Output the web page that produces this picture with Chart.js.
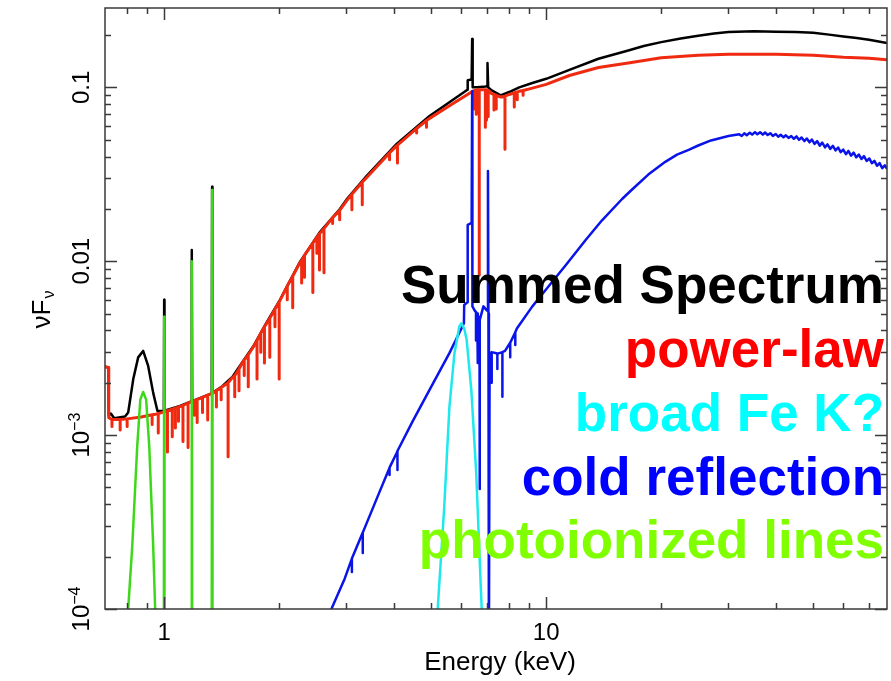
<!DOCTYPE html>
<html>
<head>
<meta charset="utf-8">
<script src="https://cdn.jsdelivr.net/npm/chart.js@4.4.1/dist/chart.umd.min.js"></script>
<style>
  html, body { margin: 0; padding: 0; background: #ffffff; }
  canvas { display: block; }
</style>
</head>
<body>
<canvas id="spectrum" width="891" height="681"></canvas>
<script>
// Energy axis (keV) and nuFnu axis limits
const energyRange = [0.7, 78];
const fluxRange = [1e-4, 0.286];

// Summed model spectrum: [energy keV, nuFnu]
const summedSpectrum = [
  [0.70, 2.47e-3], [0.715, 2.45e-3], [0.716, 1.30e-3], [0.725, 1.33e-3], [0.74, 1.25e-3],
  [0.79, 1.28e-3], [0.805, 1.35e-3], [0.83, 2.1e-3], [0.855, 2.8e-3], [0.881, 3.05e-3],
  [0.908, 2.5e-3], [0.936, 1.75e-3], [0.96, 1.38e-3],
  [0.998, 1.37e-3], [1.0, 6.0e-3], [1.002, 1.38e-3],
  [1.10, 1.47e-3], [1.178, 1.56e-3], [1.181, 0.0116], [1.184, 1.57e-3],
  [1.332, 1.74e-3], [1.335, 0.0268], [1.338, 1.75e-3],
  [1.42, 1.91e-3], [1.51, 2.17e-3], [1.6, 2.62e-3], [1.71, 3.23e-3], [1.85, 4.4e-3],
  [2.01, 6.0e-3], [2.26, 9.8e-3], [2.55, 0.0146], [2.88, 0.0199], [3.0, 0.0226],
  [3.39, 0.031], [4.06, 0.0473], [4.95, 0.0685], [5.69, 0.0846], [6.1, 0.094],
  [6.22, 0.097], [6.23, 0.110], [6.38, 0.111], [6.40, 0.19], [6.42, 0.100],
  [6.6, 0.100], [6.95, 0.101], [7.0, 0.102], [7.02, 0.138], [7.05, 0.100],
  [7.2, 0.096], [7.6, 0.090], [8.0, 0.094], [8.5, 0.100], [9.2, 0.106], [10, 0.112],
  [11.5, 0.126], [13.7, 0.146], [16.4, 0.163], [18, 0.173], [20, 0.182], [22.5, 0.191],
  [25, 0.198], [27.5, 0.204], [30, 0.208], [35, 0.210],
  [40, 0.209], [45, 0.208], [50, 0.206], [55, 0.201], [60, 0.196], [65, 0.192],
  [70, 0.188], [78, 0.180]
];

// Absorbed power-law continuum: [energy keV, nuFnu]
const powerLaw = [
  [0.70, 2.47e-3], [0.715, 2.45e-3], [0.716, 1.26e-3], [0.74, 1.23e-3], [0.80, 1.24e-3],
  [0.87, 1.27e-3], [0.95, 1.32e-3], [1.02, 1.38e-3], [1.10, 1.46e-3], [1.19, 1.57e-3],
  [1.34, 1.74e-3], [1.42, 1.9e-3], [1.51, 2.15e-3], [1.6, 2.6e-3], [1.71, 3.2e-3],
  [1.85, 4.35e-3], [2.01, 5.95e-3], [2.26, 9.7e-3], [2.55, 0.0144], [2.88, 0.0196],
  [3.0, 0.0222], [3.39, 0.0303], [4.06, 0.0462], [4.95, 0.0663], [5.69, 0.0805],
  [6.3, 0.0925], [6.45, 0.0955], [6.6, 0.097], [7.0, 0.097], [7.1, 0.095], [7.2, 0.092],
  [7.6, 0.088], [8.0, 0.091], [8.5, 0.095], [9.2, 0.099], [10, 0.104], [11.5, 0.117],
  [13.7, 0.130], [16.4, 0.138], [20, 0.148], [25, 0.153], [30, 0.155], [40, 0.155],
  [50, 0.153], [60, 0.149], [70, 0.147], [78, 0.144]
];

// Absorption lines on the power-law: [energy keV, continuum, line trough]
const powerLawLines = [
  [0.73, 1.23e-3, 1.12e-3], [0.767, 1.23e-3, 1.07e-3], [0.80, 1.24e-3, 1.12e-3],
  [0.93, 1.31e-3, 1.15e-3], [0.965, 1.33e-3, 1.03e-3],
  [1.02, 1.38e-3, 8.0e-4], [1.05, 1.41e-3, 9.8e-4], [1.07, 1.43e-3, 1.1e-3],
  [1.09, 1.45e-3, 1.2e-3], [1.12, 1.48e-3, 9.2e-4], [1.155, 1.53e-3, 8.5e-4],
  [1.20, 1.58e-3, 1.3e-3], [1.22, 1.6e-3, 1.18e-3],
  [1.26, 1.65e-3, 1.35e-3], [1.30, 1.70e-3, 1.22e-3], [1.37, 1.8e-3, 1.45e-3],
  [1.41, 1.88e-3, 1.6e-3], [1.47, 2.0e-3, 7.5e-4], [1.53, 2.2e-3, 1.66e-3],
  [1.57, 2.4e-3, 1.8e-3], [1.62, 2.7e-3, 2.2e-3],
  [1.66, 2.9e-3, 1.9e-3], [1.75, 3.5e-3, 2.1e-3], [1.79, 3.85e-3, 3.0e-3],
  [1.83, 4.2e-3, 2.6e-3], [1.89, 4.7e-3, 2.8e-3], [1.95, 5.3e-3, 4.2e-3],
  [2.0, 5.85e-3, 2.1e-3], [2.1, 7.2e-3, 6.0e-3], [2.17, 8.2e-3, 5.4e-3],
  [2.29, 0.0101, 7.5e-3], [2.33, 0.0108, 8.1e-3], [2.45, 0.0127, 6.6e-3],
  [2.51, 0.0137, 0.0111], [2.55, 0.0144, 8.9e-3], [2.62, 0.0154, 8.6e-3],
  [2.76, 0.0178, 0.0165], [2.88, 0.0196, 0.0173], [3.1, 0.0243, 0.0198],
  [3.3, 0.0285, 0.0211], [3.89, 0.0420, 0.0383], [4.08, 0.0465, 0.0367],
  [4.58, 0.0580, 0.0546], [4.86, 0.0645, 0.059],
  [6.5, 0.096, 0.075], [6.56, 0.096, 0.070], [6.68, 0.097, 0.0083],
  [6.93, 0.097, 0.059], [6.98, 0.097, 0.065], [7.05, 0.096, 0.068],
  [7.3, 0.091, 0.074], [7.4, 0.090, 0.075], [7.8, 0.089, 0.044],
  [8.25, 0.093, 0.077], [8.4, 0.094, 0.085], [8.7, 0.096, 0.090]
];

// Broad Gaussian Fe K component
const broadFeK = [
  [5.15, 8e-5], [5.2, 1e-4], [5.41, 3.9e-4], [5.58, 1.45e-3], [5.75, 2.94e-3],
  [5.92, 4.2e-3], [6.0, 4.4e-3], [6.1, 4.1e-3], [6.19, 3.55e-3], [6.37, 1.8e-3],
  [6.56, 6e-4], [6.72, 1.6e-4], [6.78, 1e-4], [6.82, 8e-5]
];

// Cold (neutral) reflection with Fe K alpha / K beta and Compton shoulder
const coldReflection = [
  [2.70, 8e-5], [2.74, 1e-4], [2.97, 1.5e-4], [3.31, 2.75e-4], [3.66, 4.7e-4],
  [4.06, 7.9e-4], [4.47, 1.2e-3], [4.95, 1.82e-3], [5.58, 2.96e-3], [6.03, 4.2e-3],
  [6.09, 4.4e-3], [6.10, 5.6e-3], [6.22, 5.8e-3], [6.23, 0.0162], [6.38, 0.0166],
  [6.40, 0.095], [6.41, 5.5e-3], [6.5, 5.2e-3], [6.6, 5.0e-3], [6.69, 4.6e-3],
  [6.85, 5.5e-3], [7.0, 5.2e-3], [7.04, 0.033], [7.06, 5.0e-3], [7.08, 5e-5],
  [7.11, 2.9e-3], [7.2, 3.0e-3], [7.5, 2.95e-3], [7.8, 3.05e-3], [8.38, 4.1e-3],
  [9.2, 5.5e-3], [10, 6.9e-3], [11.3, 9.6e-3], [12.7, 0.0133], [14, 0.0172],
  [15.8, 0.0228], [16.7, 0.0256], [18.5, 0.0315], [20.5, 0.0373], [22, 0.041],
  [23.6, 0.0437], [25, 0.0463], [27, 0.0495], [30, 0.0525],
  // Compton hump with its fine ripple
  [32.0, 0.0538], [32.5, 0.0525], [33.0, 0.0544], [33.5, 0.0530], [34.1, 0.0548],
  [34.6, 0.0535], [35.2, 0.0553], [35.7, 0.0537], [36.3, 0.0552], [36.9, 0.0535],
  [37.4, 0.0550], [38.0, 0.0532], [38.6, 0.0545], [39.2, 0.0526], [39.9, 0.0539],
  [40.5, 0.0520], [41.1, 0.0534], [41.8, 0.0516], [42.4, 0.0530], [43.1, 0.0512],
  [43.8, 0.0525], [44.5, 0.0506], [45.2, 0.0522], [45.9, 0.0499], [46.6, 0.0515],
  [47.4, 0.0491], [48.1, 0.0508], [48.9, 0.0483], [49.6, 0.0501], [50.4, 0.0473],
  [51.2, 0.0491], [52.0, 0.0462], [52.8, 0.0481], [53.7, 0.0452], [54.5, 0.0470],
  [55.4, 0.0443], [56.3, 0.0461], [57.2, 0.0434], [58.1, 0.0451], [59.0, 0.0424],
  [59.9, 0.0439], [60.9, 0.0413], [61.8, 0.0431], [62.8, 0.0405], [63.8, 0.0421],
  [64.8, 0.0396], [65.8, 0.0411], [66.9, 0.0387], [67.9, 0.0402], [69.0, 0.0377],
  [70.1, 0.0390], [71.2, 0.0366], [72.3, 0.0378], [73.5, 0.0354], [74.6, 0.0367],
  [75.8, 0.0343], [77.0, 0.0356], [78.0, 0.0340]
];

// Absorption features on the reflection component: [energy keV, continuum, trough]
const coldReflectionLines = [
  [3.1, 1.95e-4, 1.63e-4], [3.31, 2.75e-4, 2.1e-4], [3.89, 6.5e-4, 5.9e-4],
  [4.08, 8.1e-4, 6.3e-4], [6.55, 5.1e-3, 3.5e-3], [6.62, 4.9e-3, 2.6e-3],
  [6.7, 4.6e-3, 4.9e-4], [7.2, 3.0e-3, 2.0e-3], [7.45, 2.95e-3, 2.4e-3],
  [7.68, 3.0e-3, 1.66e-3], [8.05, 3.4e-3, 2.8e-3], [8.3, 3.9e-3, 3.3e-3]
];

// Photoionized emission: soft blend and narrow Ne / Mg lines
const photoionizedLines = [
  [0.80, 8e-5], [0.805, 1e-4], [0.825, 2.3e-4], [0.85, 8.6e-4], [0.866, 1.6e-3],
  [0.881, 1.77e-3], [0.897, 1.6e-3], [0.914, 8.6e-4], [0.936, 2.3e-4], [0.947, 1e-4],
  [0.95, 5e-5], [0.998, 5e-5], [1.0, 4.8e-3], [1.002, 5e-5],
  [1.178, 5e-5], [1.181, 0.0100], [1.184, 5e-5],
  [1.332, 5e-5], [1.335, 0.0257], [1.338, 5e-5]
];

// Axis ticks and labels
const xMajorTicks = [1, 10];
const xTickLabels = ['1', '10'];
const xMinorTicks = [0.8, 0.9, 2, 3, 4, 5, 6, 7, 8, 9, 20, 30, 40, 50, 60, 70];
const yMajorTicks = [0.1, 0.01, 1e-3, 1e-4];
const yTickLabels = [['0.1', ''], ['0.01', ''], ['10', '\u22123'], ['10', '\u22124']];
const yMinorDecades = [1e-4, 1e-3, 1e-2, 1e-1];
const xAxisTitle = 'Energy (keV)';

// Component names and colours, top to bottom
const componentNames = ['Summed Spectrum', 'power-law', 'broad Fe K?', 'cold reflection', 'photoionized lines'];
const componentTextColors = ['#000000', '#ff0000', '#00ffff', '#0000ff', '#80ff00'];
const componentLineColors = ['#000000', '#f02a10', '#1ee8ee', '#0a14e8', '#3ed81a'];

const FONT = '"Liberation Sans", Arial, Helvetica, sans-serif';

function toPoints(arr) {
  return arr.map(p => ({ x: p[0], y: p[1] }));
}

// Continuum plus narrow absorption troughs, each trough a down-and-back stroke
function withTroughs(cont, lines) {
  const pts = cont.map(p => ({ x: p[0], y: p[1], k: -1 }));
  lines.forEach(l => {
    pts.push({ x: l[0], y: l[1], k: 0 }, { x: l[0], y: l[2], k: 1 }, { x: l[0], y: l[1], k: 2 });
  });
  pts.sort((a, b) => (a.x - b.x) || (a.k - b.k));
  return pts.map(p => ({ x: p.x, y: p.y }));
}

function series(data, color, width, order) {
  return {
    data, borderColor: color, backgroundColor: color, borderWidth: width,
    showLine: true, pointRadius: 0, pointHoverRadius: 0, tension: 0, fill: false,
    order, borderJoinStyle: 'round', borderCapStyle: 'butt'
  };
}

const frameAndLabels = {
  id: 'frameAndLabels',
  afterDatasetsDraw(chart) {
    const { ctx, chartArea: a, scales: { x, y } } = chart;
    ctx.save();
    ctx.strokeStyle = '#3a3a3a';
    ctx.lineWidth = 1.5;
    ctx.strokeRect(a.left, a.top, a.right - a.left, a.bottom - a.top);

    const major = 12, minor = 6;
    ctx.beginPath();
    const xTick = (v, len) => {
      const px = Math.round(x.getPixelForValue(v)) + 0.5;
      ctx.moveTo(px, a.bottom); ctx.lineTo(px, a.bottom - len);
      ctx.moveTo(px, a.top); ctx.lineTo(px, a.top + len);
    };
    const yTick = (v, len) => {
      const py = Math.round(y.getPixelForValue(v)) + 0.5;
      ctx.moveTo(a.left, py); ctx.lineTo(a.left + len, py);
      ctx.moveTo(a.right, py); ctx.lineTo(a.right - len, py);
    };
    xMajorTicks.forEach(v => xTick(v, major));
    xMinorTicks.forEach(v => xTick(v, minor));
    yMajorTicks.forEach(v => yTick(v, major));
    yMinorDecades.forEach(d => {
      for (let m = 2; m <= 9; m++) {
        const v = m * d;
        if (v < fluxRange[1]) yTick(v, minor);
      }
    });
    ctx.stroke();

    // x tick labels
    ctx.fillStyle = '#000';
    ctx.font = '24px ' + FONT;
    ctx.textAlign = 'center';
    ctx.textBaseline = 'alphabetic';
    xMajorTicks.forEach((v, i) => {
      ctx.fillText(xTickLabels[i], x.getPixelForValue(v), 640);
    });

    // y tick labels, rotated to read upward
    yMajorTicks.forEach((v, i) => {
      const [base, sup] = yTickLabels[i];
      const py = y.getPixelForValue(v);
      ctx.save();
      ctx.translate(89, py);
      ctx.rotate(-Math.PI / 2);
      ctx.textAlign = 'left';
      ctx.font = '24px ' + FONT;
      const w1 = ctx.measureText(base).width;
      ctx.font = '16px ' + FONT;
      const w2 = sup ? ctx.measureText(sup).width : 0;
      const start = -(w1 + w2) / 2;
      ctx.font = '24px ' + FONT;
      ctx.fillText(base, start, 0);
      if (sup) {
        ctx.font = '16px ' + FONT;
        ctx.fillText(sup, start + w1, -9);
      }
      ctx.restore();
    });

    // y axis title: nu F_nu
    ctx.save();
    ctx.translate(50, 310);
    ctx.rotate(-Math.PI / 2);
    ctx.textAlign = 'left';
    ctx.font = '26px ' + FONT;
    const main = '\u03bdF';
    const wm = ctx.measureText(main).width;
    ctx.font = '16px ' + FONT;
    const ws = ctx.measureText('\u03bd').width;
    const s0 = -(wm + ws) / 2;
    ctx.font = '26px ' + FONT;
    ctx.fillText(main, s0, 0);
    ctx.font = '16px ' + FONT;
    ctx.fillText('\u03bd', s0 + wm + 1, 4);
    ctx.restore();

    // x axis title
    ctx.font = '26px ' + FONT;
    ctx.textAlign = 'center';
    ctx.fillText(xAxisTitle, 500, 670);

    // component key, right aligned inside the frame
    ctx.font = 'bold 53px ' + FONT;
    ctx.textAlign = 'right';
    const baselines = [303, 367, 431, 495, 558];
    componentNames.forEach((name, i) => {
      ctx.fillStyle = componentTextColors[i];
      ctx.fillText(name, 884, baselines[i]);
    });
    ctx.restore();
  }
};

new Chart(document.getElementById('spectrum'), {
  type: 'scatter',
  data: {
    datasets: [
      series(toPoints(photoionizedLines), componentLineColors[4], 2.5, 0),
      series(toPoints(broadFeK), componentLineColors[2], 2.5, 1),
      series(withTroughs(coldReflection, coldReflectionLines), componentLineColors[3], 2.5, 2),
      series(withTroughs(powerLaw, powerLawLines), componentLineColors[1], 3, 3),
      series(toPoints(summedSpectrum), componentLineColors[0], 2.5, 4)
    ]
  },
  options: {
    responsive: false,
    animation: false,
    devicePixelRatio: 1,
    layout: { padding: { left: 105, top: 8, right: 4, bottom: 72 } },
    plugins: { legend: { display: false }, tooltip: { enabled: false } },
    scales: {
      x: { type: 'logarithmic', min: energyRange[0], max: energyRange[1], display: false },
      y: { type: 'logarithmic', min: fluxRange[0], max: fluxRange[1], display: false }
    }
  },
  plugins: [frameAndLabels]
});
</script>
</body>
</html>
